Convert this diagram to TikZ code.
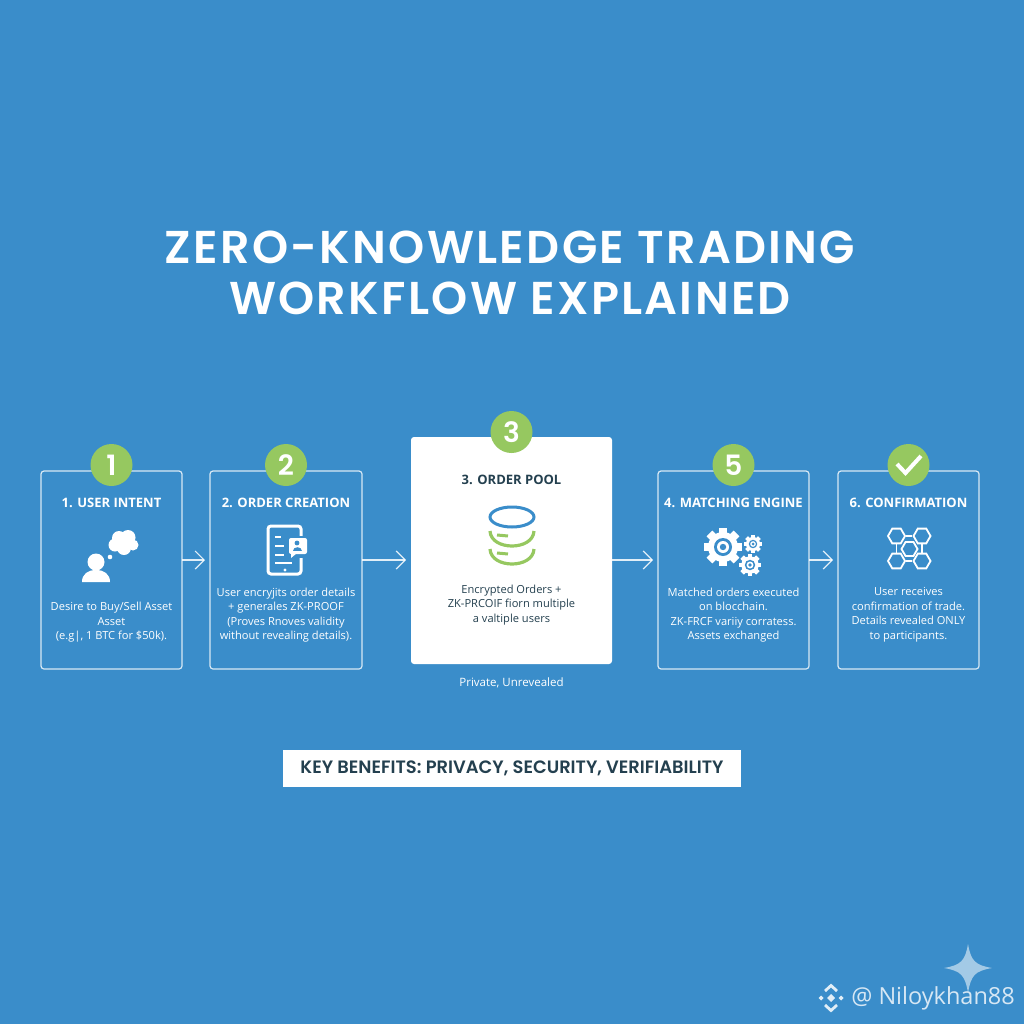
\documentclass[tikz,border=0pt]{standalone}
\usepackage{fontspec}
\setmainfont{Open Sans}
\newfontfamily\titlefont[LetterSpace=5,BoldFont={Poppins SemiBold}]{Poppins}
\newfontfamily\numfont[BoldFont={Poppins SemiBold}]{Poppins}
\usepackage{xcolor}
\usetikzlibrary{arrows.meta,positioning,calc,shapes.geometric}
\definecolor{Ocean}{HTML}{3A8DCA}
\definecolor{Leaf}{HTML}{96C860}
\definecolor{Ink}{HTML}{24404F}
\definecolor{Pale}{HTML}{A3CAE6}
\tikzset{
  gearicon/.pic={
    \foreach \a in {0,45,...,315}
      \fill[white,rotate=\a] (-4,-19) rectangle (4,19);
    \fill[white] (0,0) circle (15);
    \fill[Ocean] (0,0) circle (9);
    \fill[white] (0,0) circle (6);
    \fill[Ocean] (0,0) circle (3.2);
  }
}
\begin{document}
\begin{tikzpicture}[
  x=1pt,y=-1pt,
  panel/.style={rounded corners=3pt,draw=white,draw opacity=.8,line width=1.2pt,outer sep=0pt,minimum height=198pt},
  pool/.style={rounded corners=3pt,fill=white,outer sep=0pt,minimum width=201pt,minimum height=227pt},
  badge/.style={circle,fill=Leaf,minimum size=42pt,inner sep=0pt,text=white,font=\numfont\bfseries\fontsize{28}{28}\selectfont},
  head/.style={text=white,font=\bfseries\fontsize{13}{15}\selectfont},
  body/.style={text=white,align=center,inner sep=0pt,font=\fontsize{11.1}{14.5}\selectfont},
  arr/.style={-{Straight Barb[length=9pt,width=18pt]},white,opacity=.85,line width=1.2pt,shorten >=5pt},
  icon/.style={white,line width=3pt,line cap=round},
  hexa/.style={regular polygon,regular polygon sides=6,shape border rotate=0,draw=white,line width=1.8pt,minimum size=17pt,inner sep=0pt}
]
\useasboundingbox (0,0) rectangle (1024,1024);
\fill[Ocean] (0,0) rectangle (1024,1024);
\node[text=white,align=center,font=\titlefont\bfseries\fontsize{46}{51}\selectfont] (title) at (510,272.5) {ZERO-KNOWLEDGE TRADING\\WORKFLOW EXPLAINED};

% five panels of the flow
\node[panel,minimum width=141pt] (intent) at (111.5,570) {};
\node[panel,minimum width=152pt,right=28pt of intent] (creation) {};
\node[pool,right=49pt of creation,yshift=19.5pt] (orderpool) {};
\node[panel,minimum width=151pt,right=46pt of orderpool,yshift=-19.5pt] (matching) {};
\node[panel,minimum width=141pt,right=29pt of matching] (confirm) {};

\node[badge] (b1) at ([yshift=6pt]intent.north) {1};
\node[badge] (b2) at ([yshift=6pt]creation.north) {2};
\node[badge] (b3) at ([yshift=5pt]orderpool.north) {3};
\node[badge] (b5) at ([yshift=6pt]matching.north) {5};
\node[badge] (b6) at ([yshift=6pt]confirm.north) {};
\draw[white,line width=4pt] (897,464) -- (905.5,473) -- (921,456);

\node[head] (h1) at ([yshift=-32pt]intent.north) {1. USER INTENT};
\node[head] (h2) at ([yshift=-32pt]creation.north) {2. ORDER CREATION};
\node[head,text=Ink] (h3) at ([yshift=-43pt]orderpool.north) {3. ORDER POOL};
\node[head] (h4) at ([yshift=-32pt]matching.north) {4. MATCHING ENGINE};
\node[head] (h5) at ([yshift=-32pt]confirm.north) {6. CONFIRMATION};

\node[body] (t1) at (111.5,622.5) {Desire to Buy/Sell Asset\\Asset\\(e.g|, 1 BTC for \$50k).};
\node[body] (t2) at (286,615) {User encryjits order details\\+ generales ZK-PROOF\\(Proves Rnoves validity\\without revealing details).};
\node[body,text=Ink] (t3) at (511.5,605) {Encrypted Orders +\\ZK-PRCOIF fiorn multiple\\a valtiple users};
\node[body] (t4) at (733.5,615) {Matched orders executed\\on blocchain.\\ZK-FRCF variiy corratess.\\Assets exchanged};
\node[body] (t5) at (908.5,615) {User receives\\confirmation of trade.\\Details revealed ONLY\\to participants.};
\node[body,font=\fontsize{11.5}{14}\selectfont,below=14pt of orderpool] (under) {Private, Unrevealed};

\coordinate (flow) at (0,560);
\draw[arr] (intent.east |- flow) -- (creation.west |- flow);
\draw[arr] (creation.east |- flow) -- (orderpool.west |- flow);
\draw[arr] (orderpool.east |- flow) -- (matching.west |- flow);
\draw[arr] (matching.east |- flow) -- (confirm.west |- flow);

% person and thought cloud
\fill[white] (96,562) circle (8.5);
\fill[white] (82,582) .. controls (82,574) and (88,570) .. (96,570) .. controls (104,570) and (110,574) .. (110,582) -- cycle;
\fill[white] (110,557) circle (2.3);
\foreach \cx/\cy/\r in {115/545/6.5,119/538/7,128/537.5/7.5,133/545/5.5,124/548/7}
  \fill[white] (\cx,\cy) circle (\r);

% tablet
\draw[icon,rounded corners=3pt] (268,526) rectangle (301,574);
\foreach \ly/\lx in {537/281,546/284,555/284,563/292}
  \draw[white,line width=1.6pt] (275,\ly) -- (\lx,\ly);
\fill[white] (285,570) circle (1.6);
\fill[Ocean] (286,536) rectangle (304,558);
\fill[white,rounded corners=2pt] (289,538) rectangle (307,554);
\fill[white] (291,552) -- (291,558) -- (297,553) -- cycle;
\fill[Ocean] (297,543) circle (2.4);
\fill[Ocean] (292.5,551) .. controls (292.5,546) and (301.5,546) .. (301.5,551) -- cycle;

% stack of the order pool
\draw[Ocean,line width=3pt] (512,517) ellipse (22 and 10);
\foreach \sy in {531,549}{
  \draw[Leaf,line width=3.2pt] (490,\sy) .. controls (491,\sy+20) and (533,\sy+20) .. (534,\sy);
  \draw[Leaf,line width=3pt] (497,\sy+4) -- (508,\sy+5);
}

% gears
\pic at (723,547) {gearicon};
\pic[scale=.47] at (753,544) {gearicon};
\pic[scale=.58] at (750,565) {gearicon};

% hexagon network
\node[hexa] (n1) at (896.5,536) {};
\node[hexa] (n2) at (922,536) {};
\node[hexa] (n3) at (896.5,561) {};
\node[hexa] (n4) at (922,561) {};
\node[hexa,minimum size=16pt] (n5) at (909.5,549) {};
\draw[white,line width=1.8pt] (n1) -- (n2);
\draw[white,line width=1.8pt] (n3) -- (n4);
\draw[white,line width=1.8pt] (n1) -- (n3);
\draw[white,line width=1.8pt] (n2) -- (n4);

% key benefits strip
\node[fill=white,text=Ink,minimum width=458pt,minimum height=37pt,inner sep=0pt,font=\numfont\bfseries\fontsize{17.9}{20}\selectfont] (benefits) at (512,768.5) {KEY BENEFITS: PRIVACY, SECURITY, VERIFIABILITY};

% watermark
\fill[Pale] (968,944) .. controls (971,961) and (975,965) .. (992,968) .. controls (975,971) and (971,975) .. (968,993) .. controls (965,975) and (961,971) .. (944,968) .. controls (961,965) and (965,961) .. (968,944) -- cycle;
\fill[white,opacity=.85] (831,994) -- (835,998) -- (831,1002) -- (827,998) -- cycle;
\fill[white,opacity=.85] (821,995.5) -- (823.5,998) -- (821,1000.5) -- (818.5,998) -- cycle;
\fill[white,opacity=.85] (841,995.5) -- (843.5,998) -- (841,1000.5) -- (838.5,998) -- cycle;
\draw[white,opacity=.85,line width=2.8pt] (825,991) -- (831,985.5) -- (837,991);
\draw[white,opacity=.85,line width=2.8pt] (825,1005) -- (831,1010.5) -- (837,1005);
\node[text=Pale!45!white,anchor=east,inner sep=0pt,font=\fontsize{23.5}{26}\selectfont] (mark) at (1015,998) {@ Niloykhan88};
\end{tikzpicture}
\end{document}
